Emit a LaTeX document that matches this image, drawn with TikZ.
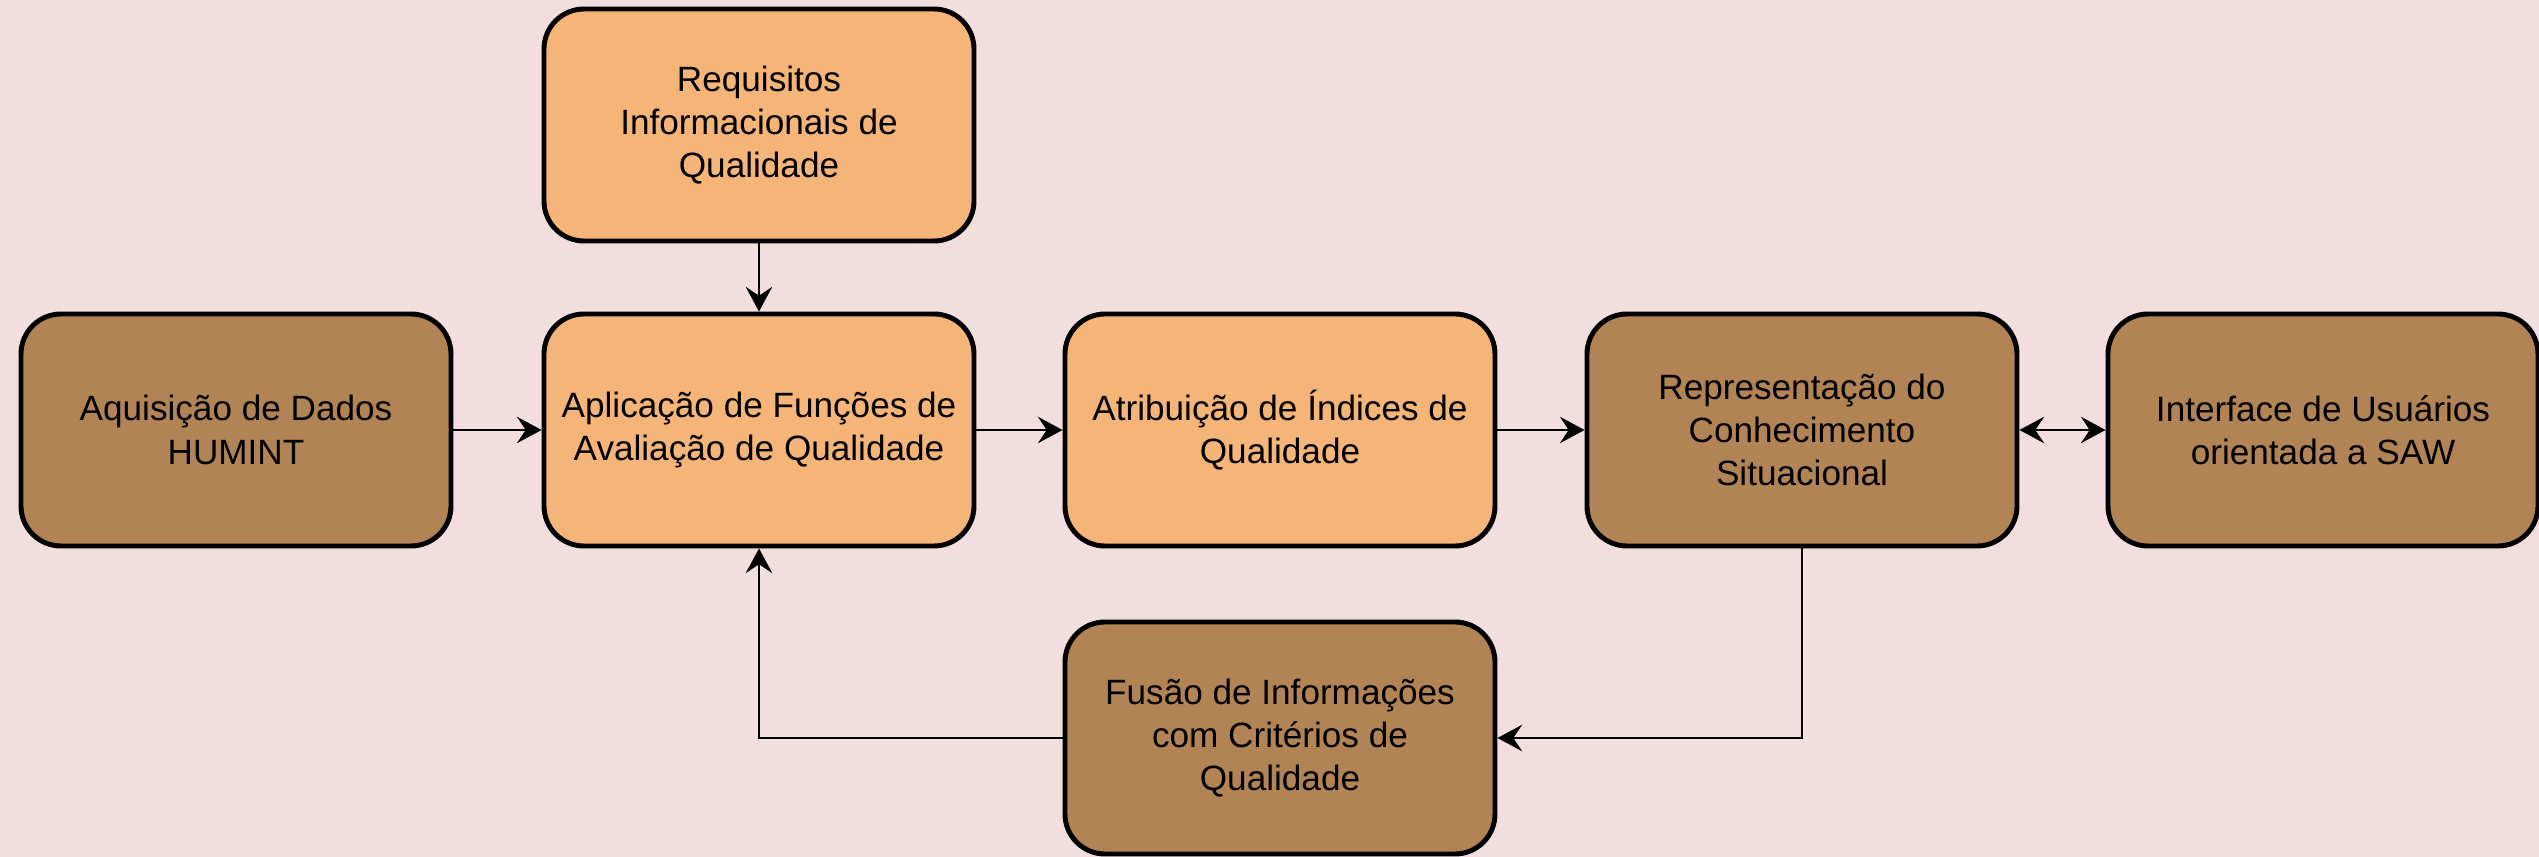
\documentclass[tikz,border=0pt]{standalone}
\usepackage{fontspec}
\setmainfont{Liberation Sans}
\usepackage{tikz}
\usetikzlibrary{calc,positioning,fit}
\usetikzlibrary{shapes,arrows,arrows.meta}
\definecolor{fundo}{RGB}{242,222,222}
\definecolor{laranja}{RGB}{245,180,120}
\definecolor{marrom}{RGB}{178,132,85}
\tikzstyle{blk}=[shape=rectangle, rounded corners=4mm, draw, line width=1.4pt, minimum width=4.3cm, minimum height=2.32cm, align=center, font=\fontsize{10}{12.3}\selectfont]
\tikzstyle{blkA}=[blk, fill=laranja]
\tikzstyle{blkB}=[blk, fill=marrom]
\tikzstyle{seta}=[line width=0.8pt, >={Stealth[length=7pt,width=7.5pt,inset=2.5pt]}]

\begin{document}
\begin{tikzpicture}[scale=1,inner sep=0.4mm]

\fill[fundo] (0,0) rectangle (25.39,8.57);
\useasboundingbox (0,0) rectangle (25.39,8.57);

\node (requi) [blkA] at (7.59,7.32) {Requisitos\\Informacionais de\\Qualidade};
\node (aquis) [blkB] at (2.36,4.27) {Aquisição de Dados\\HUMINT};
\node (aplic) [blkA] at (7.59,4.27) {Aplicação de Funções de\\Avaliação de Qualidade};
\node (atrib) [blkA] at (12.80,4.27) {Atribuição de Índices de\\Qualidade};
\node (repr) [blkB] at (18.02,4.27) {Representação do\\Conhecimento\\Situacional};
\node (inter) [blkB] at (23.23,4.27) {Interface de Usuários\\orientada a SAW};
\node (fusao) [blkB] at (12.80,1.19) {Fusão de Informações\\com Critérios de\\Qualidade};

\draw[seta,->] (requi) -- (aplic);
\draw[seta,->] (aquis) -- (aplic);
\draw[seta,->] (aplic) -- (atrib);
\draw[seta,->] (atrib) -- (repr);
\draw[seta,<->] (repr) -- (inter);
\draw[seta,->] (repr.south) |- (fusao.east);
\draw[seta,->] (fusao.west) -| (aplic.south);

\end{tikzpicture}
\end{document}
